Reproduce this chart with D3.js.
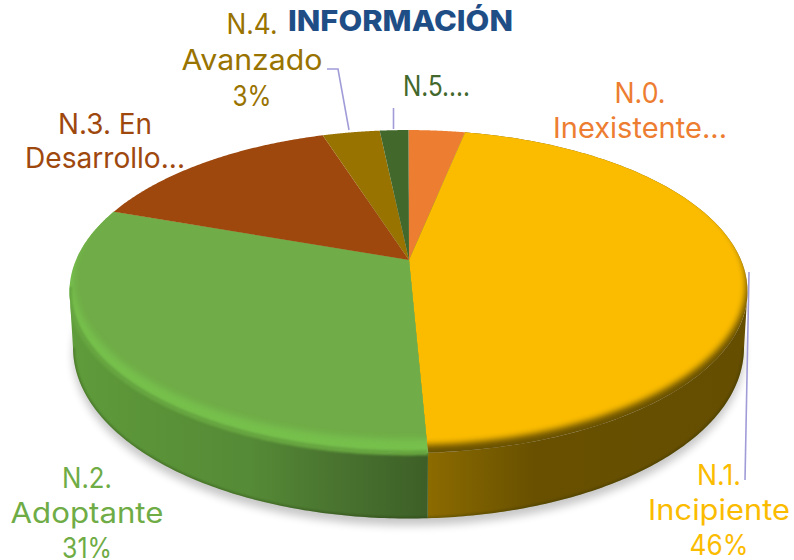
<!DOCTYPE html>
<html><head><meta charset="utf-8">
<script src="https://cdn.jsdelivr.net/npm/d3@7/dist/d3.min.js"></script>
<style>html,body{margin:0;padding:0;background:#fff}svg{display:block}text{font-family:Inter,"Noto Sans",sans-serif;font-size:28.5px}</style>
</head><body><div id="c"></div>
<script>
// Data
const categories = ["N.0. Inexistente","N.1. Incipiente","N.2. Adoptante","N.3. En Desarrollo","N.4. Avanzado","N.5."];
const values = [3.25, 46, 31.1, 14.7, 3.3, 1.65];
const colors = ["#ED7D31","#FBBC00","#6FAC46","#9E480E","#997300","#43682B"];
const titleText = "INFORMACIÓN";
const labelLines = [
  ["N.0.","Inexistente..."],
  ["N.1.","Incipiente","46%"],
  ["N.2.","Adoptante","31%"],
  ["N.3. En","Desarrollo..."],
  ["N.4.","Avanzado","3%"],
  ["N.5...."]
];

// Layout
const W=794,H=560, cx=408.5, cy=260;
const k=0.195, A=155.3, B=332.5;
const labelLayout = [
  {x:640,y:[103,138],w:[51,174]},
  {x:719,y:[485,520,555],w:[44,142,59]},
  {x:87,y:[488,523,558],w:[50,153,50]},
  {x:105,y:[134,168],w:[94,160]},
  {x:252,y:[34,70,106],w:[51,141,39]},
  {x:436.5,y:[96],w:[67]}
];
const svg=d3.select("#c").append("svg").attr("width",W).attr("height",H).attr("viewBox",`0 0 ${W} ${H}`);
const defs=svg.append("defs");
const blur=(id,s)=>defs.append("filter").attr("id",id).attr("x","-10%").attr("y","-10%").attr("width","120%").attr("height","120%")
  .append("feGaussianBlur").attr("stdDeviation",s);
blur("b1",1.3);blur("b2",2.4);blur("b3",3.2);blur("bs",4);

const line=d3.line();
const proj=(t,r=1,dy=0)=>{const u=r*Math.sin(t),v=r*Math.cos(t),w=1+k*v;return [cx+B*u/w,cy-A*v/w+dy];};
const lowDy=t=>54+14*Math.max(0,-Math.cos(t));
const low=t=>proj(t,0.99,lowDy(t));
const samples=(a,b,n=120)=>d3.range(n+1).map(i=>a+(b-a)*i/n);
const pie=d3.pie().sort(null).value(d=>d)(values);

const t1=Math.acos(-k), t2=2*Math.PI-t1;
// ground shadow
svg.append("path").attr("d",line(samples(0,2*Math.PI,240).map(t=>{const p=low(t);return [p[0],p[1]+7];}))+"Z")
  .attr("fill","#000").attr("opacity",.22).attr("filter","url(#bs)");

// side gradients
function grad(id,stops){const g=defs.append("linearGradient").attr("id",id).attr("gradientUnits","userSpaceOnUse")
  .attr("x1",0).attr("x2",W).attr("y1",0).attr("y2",0);
  stops.forEach(([x,c])=>g.append("stop").attr("offset",x/W).attr("stop-color",c));}
grad("side1",[[428,"#8C6B00"],[470,"#7D6000"],[535,"#685000"],[750,"#654E00"]]);
grad("side2",[[70,"#5F9C3B"],[150,"#5A9338"],[250,"#558A36"],[330,"#4A7530"],[428,"#3D5F27"]]);
const sideFill=i=>i===1?"url(#side1)":i===2?"url(#side2)":colors[i];

const sideG=svg.append("g");
pie.forEach((p,i)=>{
  const a=Math.max(p.startAngle,t1), b=Math.min(p.endAngle,t2);
  if(a>=b) return;
  const ts=samples(a,b);
  const pts=ts.map(t=>proj(t)).concat(ts.slice().reverse().map(low));
  sideG.append("path").attr("d",line(pts)+"Z").attr("fill",sideFill(i));
});
// soft dark lower edge of the side
const sideOutline=line(samples(t1,t2).map(t=>proj(t)).concat(samples(t1,t2).reverse().map(low)))+"Z";
defs.append("clipPath").attr("id","sideClip").append("path").attr("d",sideOutline);
svg.append("g").attr("clip-path","url(#sideClip)").append("path")
  .attr("d",line(samples(t1,t2).map(low))).attr("fill","none").attr("stroke","#1c2a00").attr("stroke-width",3).attr("opacity",.3).attr("filter","url(#b1)");

// top
const topG=svg.append("g");
const bevel={1:{base:"#6A5200",dy:-7,blur:"b3",r:.996},2:{base:"#76C04C",dy:-11,blur:"b3",r:.988}};
const inner=(r,dy)=>line(samples(0,2*Math.PI,240).map(t=>proj(t,r,dy)))+"Z";
pie.forEach((p,i)=>{
  const wedge=line([[cx+.5,cy]].concat(samples(p.startAngle,p.endAngle).map(t=>proj(t))))+"Z";
  defs.append("clipPath").attr("id","w"+i).append("path").attr("d",wedge);
  const bv=bevel[i];
  topG.append("path").attr("d",wedge).attr("fill",bv?bv.base:colors[i]);
  if(bv){
    const g=topG.append("g").attr("clip-path",`url(#w${i})`);
    g.append("path").attr("d",inner(bv.r,bv.dy)).attr("fill",colors[i]).attr("filter",`url(#${bv.blur})`);
  }
});
// soft join between the green rim and its side, kept inside the pie
const gp=pie[2];
const joinClip=defs.append("clipPath").attr("id","joinClip");
joinClip.append("path").attr("d",sideOutline);
joinClip.append("path").attr("d",line(samples(0,2*Math.PI,240).map(t=>proj(t)))+"Z");
svg.append("g").attr("clip-path","url(#joinClip)").append("path").attr("d",line(samples(gp.startAngle,t2+.03).map(t=>proj(t))))
  .attr("fill","none").attr("stroke","#66A53F").attr("stroke-width",5).attr("filter","url(#b1)");

// leader lines
const leaders=[[[749,272],[745,480]],[[327,69],[338,69],[349,130]],[[393.5,108],[393.5,129]]];
leaders.forEach(l=>svg.append("path").attr("d",line(l)).attr("fill","none").attr("stroke","#A09CD8").attr("stroke-width",1.6));

// labels
labelLines.forEach((ls,i)=>ls.forEach((s,j)=>{
  const L=labelLayout[i];
  svg.append("text").attr("x",L.x).attr("y",L.y[j]).attr("text-anchor","middle")
    .attr("textLength",L.w[j]).attr("lengthAdjust","spacingAndGlyphs").attr("fill",colors[i]).text(s);
}));
svg.append("text").attr("x",400.5).attr("y",31).attr("text-anchor","middle").attr("textLength",225).attr("lengthAdjust","spacingAndGlyphs")
  .attr("fill","#1F4E86").attr("font-weight",800).style("font-size","28.5px").text(titleText);
</script></body></html>
